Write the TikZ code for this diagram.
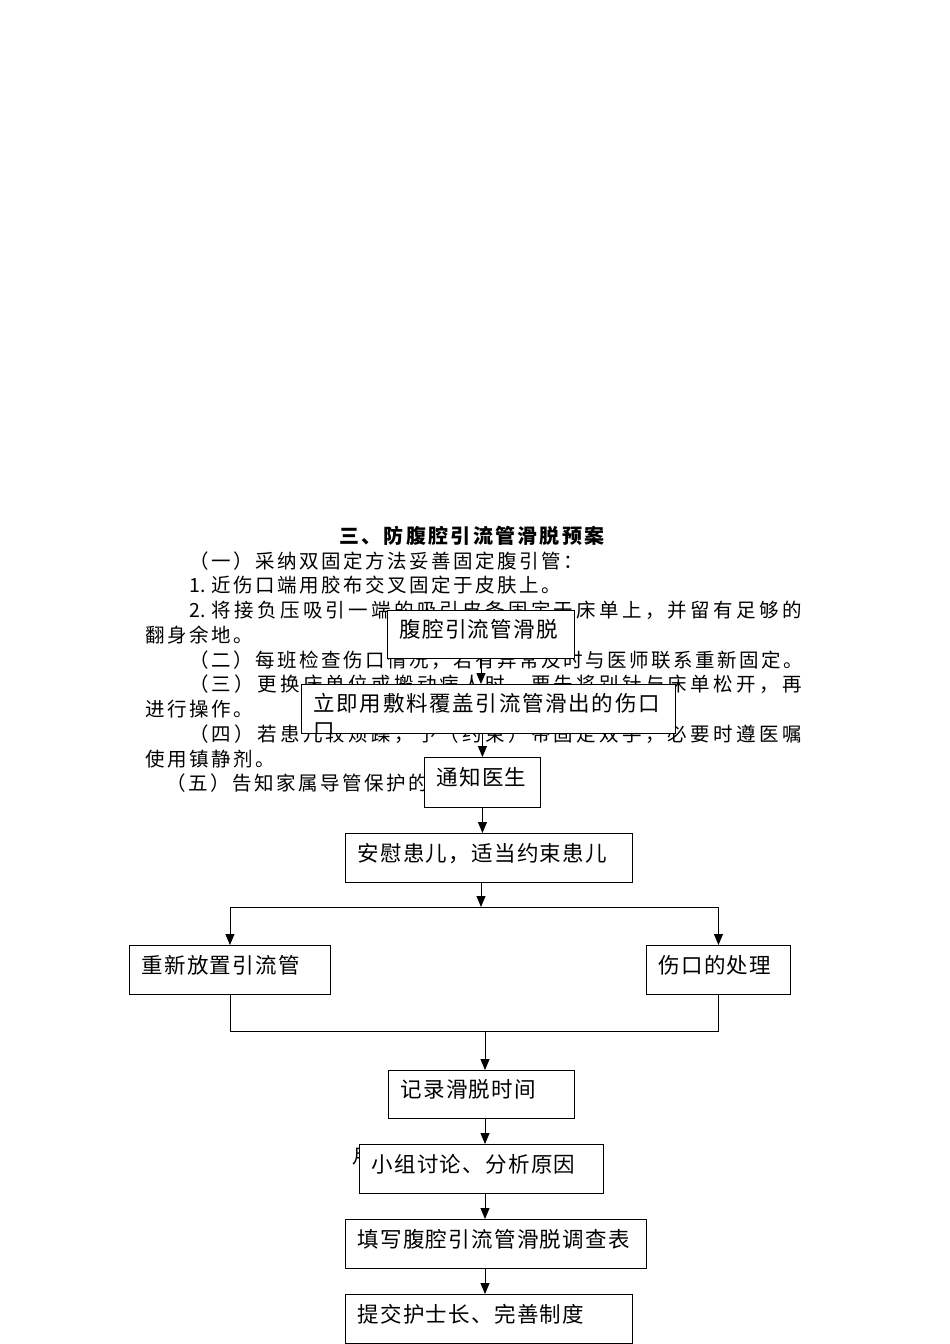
\documentclass[tikz,border=0pt]{standalone}
\usepackage{fontspec}
\setmainfont{Noto Sans CJK SC}
\usetikzlibrary{arrows.meta}
\ExplSyntaxOn
\NewDocumentCommand\spc{mm}{\tl_map_inline:nn{#2}{\makebox[#1][l]{##1}}}
\ExplSyntaxOff
\newcommand\bxfont{\fontsize{21.5pt}{27pt}\selectfont}
\newcommand\bt[2]{\makebox[#1][l]{\hspace{12pt}\smash{\raisebox{-3.2pt}{\bxfont\spc{22.8pt}{#2}}}}}
\tikzset{
  bg/.style={inner sep=0pt, anchor=base west, font=\fontsize{19.5pt}{24pt}\selectfont},
  bx/.style={draw, fill=white, line width=0.9pt, inner sep=0pt, anchor=north west},
  ln/.style={line width=0.9pt},
  arr/.style={line width=0.9pt, -{Triangle[length=11pt,width=9pt]}}
}
\begin{document}
\begin{tikzpicture}[x=1pt,y=-1pt]
\useasboundingbox (0,0) rectangle (950,1344);
% background document text
\node[inner sep=0pt, anchor=base, font=\fontsize{20pt}{24pt}\selectfont\bfseries] (title) at (473,543.6) {\spc{22.3pt}{三、防腹腔引流管滑脱预案}};
\node[bg] (t1) at (189,568.15) {\spc{22pt}{（一）采纳双固定方法妥善固定腹引管：}};
\node[bg] (t2) at (189,592.9) {\spc{22pt}{{1.}近伤口端用胶布交叉固定于皮肤上。}};
\node[bg] (t3) at (189,617.65) {\spc{22.8pt}{{2.}将接负压吸引一端的吸引皮条固定于床单上，并留有足够的}};
\node[bg] (t4) at (145,642.4) {\spc{22pt}{翻身余地。}};
\node[bg] (t5) at (189,667.15) {\spc{22pt}{（二）每班检查伤口情况，若有异常及时与医师联系重新固定。}};
\node[bg] (t6) at (189,691.9) {\spc{22.8pt}{（三）更换床单位或搬动病人时，要先将别针与床单松开，再}};
\node[bg] (t7) at (145,716.65) {\spc{22pt}{进行操作。}};
\node[bg] (t8) at (189,741.4) {\spc{22.8pt}{（四）若患儿较烦躁，予（约束）带固定双手，必要时遵医嘱}};
\node[bg] (t9) at (145,766.15) {\spc{22pt}{使用镇静剂。}};
\node[bg] (t10) at (166,790.9) {\spc{22pt}{（五）告知家属导管保护的重要性。}};
\node[bg] (t11) at (352,1163.4) {月};
% boxes
\node[bx, minimum width=187pt, minimum height=48pt] (b1) at (387,610) {\bt{187pt}{腹腔引流管滑脱}};
\begin{scope}
\clip (299,682) rectangle (677,733.45);
\node[bx, minimum width=374pt, minimum height=49pt] (b2) at (301,684)
  {\makebox[374pt][l]{\hspace{12pt}\smash{\raisebox{-2.2pt}{\bxfont\vtop{\baselineskip=27pt\hbox{\spc{23.2pt}{立即用敷料覆盖引流管滑出的伤口}}\hbox{口}}}}}};
\end{scope}
\node[bx, minimum width=116pt, minimum height=50pt] (b3) at (424,757) {\bt{116pt}{通知医生}};
\node[bx, minimum width=287pt, minimum height=49pt] (b4) at (345,833) {\bt{287pt}{安慰患儿，适当约束患儿}};
\node[bx, minimum width=201pt, minimum height=49pt] (b5) at (129,945) {\bt{201pt}{重新放置引流管}};
\node[bx, minimum width=144pt, minimum height=49pt] (b6) at (646,945) {\bt{144pt}{伤口的处理}};
\node[bx, minimum width=186pt, minimum height=48pt] (b7) at (388,1070) {\bt{186pt}{记录滑脱时间}};
\node[bx, minimum width=244pt, minimum height=49pt] (b8) at (359,1144) {\bt{244pt}{小组讨论、分析原因}};
\node[bx, minimum width=301pt, minimum height=49pt] (b9) at (345,1219) {\bt{301pt}{填写腹腔引流管滑脱调查表}};
\node[bx, minimum width=287pt, minimum height=49pt] (b10) at (345,1294) {\bt{287pt}{提交护士长、完善制度}};
% connectors
\draw[arr] (b1.south) -- (b1.south |- b2.north);
\draw[arr] (b3.north |- b2.south) -- (b3.north);
\draw[arr] (b3.south) -- (b3.south |- b4.north);
\coordinate (j) at (481,907);
\coordinate (jl) at (b5.north |- j);
\coordinate (jr) at (b6.north |- j);
\draw[arr] (j |- b4.south) -- (j);
\draw[ln] (jl) -- (jr);
\draw[arr] (jl) -- (b5.north);
\draw[arr] (jr) -- (b6.north);
\coordinate (k) at (485,1031);
\coordinate (kl) at (b5.south |- k);
\coordinate (kr) at (b6.south |- k);
\draw[ln] (b5.south) -- (kl) -- (kr) -- (b6.south);
\draw[arr] (k) -- (k |- b7.north);
\draw[arr] (k |- b7.south) -- (k |- b8.north);
\draw[arr] (k |- b8.south) -- (k |- b9.north);
\draw[arr] (k |- b9.south) -- (k |- b10.north);
\end{tikzpicture}
\end{document}
